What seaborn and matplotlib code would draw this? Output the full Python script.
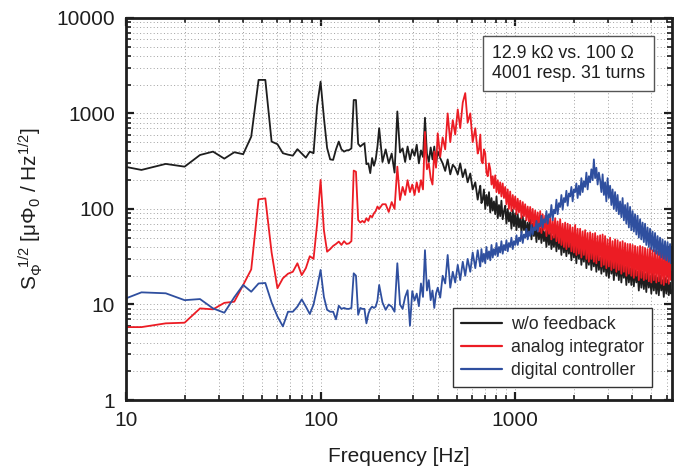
import numpy as np
import pandas as pd
import matplotlib
matplotlib.use("Agg")
import matplotlib.pyplot as plt
import seaborn as sns
from matplotlib.ticker import FixedLocator, LogLocator, NullFormatter, FixedFormatter

# ---------------- data ----------------
freq = [
    10, 12, 16, 20, 24, 28, 32, 36, 40, 44,
    48, 52, 56, 60, 64, 68, 72, 76, 80, 84,
    88, 92, 96, 100, 104, 108, 112, 116, 120, 124,
    128, 132, 136, 140, 144, 148, 152, 156, 160, 164,
    168, 172, 176, 180, 184, 188, 192, 196, 200, 208,
    216, 224, 232, 240, 248, 256, 264, 272, 280, 288,
    296, 304, 312, 320, 328, 336, 344, 352, 360, 368,
    376, 384, 392, 400, 412, 424, 437, 450, 464, 478,
    492, 507, 522, 538, 554, 570, 588, 605, 624, 642,
    652, 662, 671, 681, 691, 702, 712, 723, 734, 745,
    756, 767, 778, 790, 802, 814, 826, 838, 850, 863,
    876, 889, 902, 916, 929, 943, 957, 972, 986, 1001,
    1016, 1031, 1046, 1062, 1078, 1094, 1110, 1126, 1143, 1160,
    1177, 1195, 1213, 1231, 1249, 1268, 1287, 1306, 1325, 1345,
    1365, 1385, 1406, 1427, 1448, 1470, 1492, 1514, 1536, 1559,
    1582, 1606, 1630, 1654, 1679, 1704, 1729, 1755, 1781, 1807,
    1834, 1862, 1889, 1917, 1946, 1975, 2004, 2034, 2064, 2095,
    2126, 2158, 2190, 2223, 2256, 2290, 2324, 2358, 2393, 2429,
    2465, 2502, 2539, 2577, 2615, 2654, 2694, 2734, 2775, 2816,
    2858, 2900, 2943, 2987, 3032, 3077, 3123, 3169, 3216, 3264,
    3313, 3362, 3412, 3463, 3515, 3567, 3620, 3674, 3729, 3784,
    3841, 3898, 3956, 4015, 4075, 4135, 4197, 4259, 4322, 4387,
    4452, 4519, 4586, 4654, 4723, 4794, 4865, 4938, 5011, 5086,
    5162, 5238, 5316, 5396, 5476, 5557, 5640, 5724, 5809, 5896,
    5984, 6073, 6164, 6255, 6328, 6400,
]

no_feedback = [
    275, 256, 296, 277, 367, 398, 336, 392, 374, 571,
    2240, 2240, 507, 476, 383, 370, 361, 422, 380, 344,
    398, 383, 1200, 2150, 900, 435, 330, 326, 420, 507,
    420, 398, 410, 413, 430, 1380, 1380, 480, 450, 470,
    488, 294, 300, 237, 341, 283, 330, 450, 700, 310,
    420, 300, 380, 240, 1047, 390, 430, 310, 450, 330,
    420, 360, 470, 300, 410, 350, 900, 380, 310, 440,
    330, 450, 290, 400, 340, 300, 250, 330, 230, 290,
    270, 230, 300, 215, 260, 190, 235, 160, 190, 125,
    150, 175, 115, 125, 160, 100, 140, 108, 150, 92,
    130, 96, 120, 88, 135, 80, 110, 84, 122, 78,
    95, 108, 70, 100, 74, 92, 62, 98, 66, 90,
    60, 88, 64, 80, 56, 84, 60, 76, 52, 72,
    55, 78, 48, 70, 52, 66, 45, 72, 48, 62,
    44, 66, 46, 58, 40, 60, 42, 56, 38, 52,
    40, 56, 36, 52, 38, 50, 33, 54, 35, 46,
    32, 48, 34, 44, 29, 46, 31, 42, 27, 44,
    30, 40, 26, 38, 28, 42, 24, 36, 26, 38,
    23, 36, 25, 34, 22, 35, 23, 31, 21, 33,
    22, 31, 20, 30, 19, 32, 21, 28, 18, 29,
    20, 27, 18, 28, 17, 26, 19, 25, 16, 26,
    17, 24, 16, 25, 15.5, 23, 17, 22, 14, 23,
    15, 22, 14.5, 21, 13.5, 22, 15, 20, 13, 21,
    14, 20, 13, 19, 12.5, 20, 14, 18, 12, 19,
    13, 18, 12.5, 17, 13, 14,
]

analog_integrator = [
    5.8, 5.8, 6.35, 6.45, 9.1, 8.9, 10.4, 10.7, 16, 23.3,
    126, 129, 35, 14.8, 18.8, 21, 22, 27, 20.3, 24,
    32, 30, 70, 201, 60, 35.7, 38, 41, 43, 45.5,
    42, 46, 43, 43.6, 46, 252, 245, 76.7, 72, 75,
    72, 80, 75, 85, 82, 90, 95, 106, 100, 112,
    112, 93, 118, 100, 277, 124, 170, 140, 200, 150,
    180, 140, 190, 150, 200, 160, 640, 260, 300, 210,
    180, 400, 270, 620, 350, 560, 420, 1000, 500, 850,
    600, 1100, 700, 1300, 1630, 800, 1000, 500, 700, 380,
    420, 600, 320, 300, 420, 380, 240, 220, 300, 260,
    180, 220, 165, 225, 150, 200, 145, 190, 135, 185,
    130, 170, 112, 160, 100, 152, 95, 140, 100, 135,
    88, 128, 92, 122, 80, 118, 84, 112, 76, 106,
    74, 105, 68, 100, 64, 96, 62, 92, 58, 95,
    56, 88, 60, 85, 52, 84, 55, 80, 48, 76,
    50, 80, 46, 74, 44, 78, 42, 70, 40, 72,
    38, 70, 40, 68, 36, 64, 35, 68, 33, 62,
    34, 62, 31, 58, 33, 60, 30, 56, 28, 57,
    30, 55, 28, 56, 27, 52, 29, 53, 25, 54,
    26, 52, 24, 48, 25, 50, 23, 46, 24, 48,
    22, 47, 23, 45, 21, 46, 22, 44, 20, 43,
    21, 43, 20, 42, 19, 41, 20, 40, 18, 41,
    19, 40, 18, 39, 18.5, 38, 17.5, 39, 17, 37,
    18, 37, 17, 36, 17.5, 36, 16.5, 35, 16, 36,
    17, 35, 16.5, 34, 18, 22,
]

digital_controller = [
    11.6, 13.4, 13.1, 11.1, 11.4, 9.1, 8.2, 11.9, 16, 13.6,
    16.6, 16.8, 10.5, 7.5, 5.9, 8.4, 8.4, 9.5, 11.3, 9.5,
    7.95, 10.0, 15, 23, 12, 8.8, 8.4, 8.4, 7.0, 9.7,
    9.0, 9.2, 9.0, 9.0, 9.2, 21.2, 20, 7.8, 9.2, 9.0,
    9.0, 6.35, 8.0, 9.0, 9.5, 9.2, 9.5, 11, 16, 10.5,
    8.8, 10, 9.5, 8.4, 27, 10, 9, 12, 14.1, 6.0,
    13.8, 11, 13, 9.6, 16.6, 12, 37, 14, 18, 11.1,
    14, 9.2, 13, 15, 11.8, 20, 16.6, 33, 15, 22,
    17, 26, 18, 28, 20, 30, 22, 35, 24, 37,
    30, 25, 38, 28, 34, 27, 40, 30, 36, 29,
    42, 31, 38, 33, 44, 32, 40, 35, 46, 34,
    42, 37, 47, 36, 44, 40, 50, 38, 46, 42,
    53, 42, 50, 46, 58, 44, 54, 50, 62, 48,
    58, 52, 68, 54, 64, 60, 75, 58, 70, 66,
    85, 64, 78, 72, 95, 70, 88, 82, 110, 76,
    98, 90, 125, 88, 115, 105, 140, 98, 130, 118,
    155, 108, 145, 135, 170, 120, 160, 150, 185, 130,
    175, 140, 210, 150, 195, 170, 240, 160, 220, 190,
    260, 200, 330, 210, 270, 180, 240, 200, 150, 230,
    140, 190, 120, 210, 130, 175, 110, 160, 100, 150,
    95, 140, 88, 120, 82, 130, 76, 110, 70, 115,
    64, 105, 60, 95, 58, 88, 54, 85, 50, 78,
    48, 72, 45, 70, 42, 64, 40, 62, 38, 58,
    36, 56, 34, 52, 33, 50, 31, 48, 30, 46,
    29, 45, 28, 43, 27, 40,
]

series_names = ["w/o feedback", "analog integrator", "digital controller"]
series_colors = ["#1e1e1e", "#ec1c24", "#2f4f9f"]
x_ticks = [10, 100, 1000]
x_tick_labels = ["10", "100", "1000"]
y_ticks = [1, 10, 100, 1000, 10000]
y_tick_labels = ["1", "10", "100", "1000", "10000"]
annotation = "12.9 k\u03a9 vs. 100 \u03a9\n4001 resp. 31 turns"

# ---------------- build long table ----------------
frames = []
for name, vals in zip(series_names, [no_feedback, analog_integrator, digital_controller]):
    frames.append(pd.DataFrame({"Frequency": freq, "S": vals, "series": name}))
df = pd.concat(frames, ignore_index=True)

# ---------------- style ----------------
sns.set_style("ticks")
plt.rcParams["font.family"] = ["Liberation Sans", "DejaVu Sans"]
plt.rcParams["mathtext.fontset"] = "custom"
plt.rcParams["mathtext.rm"] = "Liberation Sans"
plt.rcParams["mathtext.it"] = "Liberation Sans"
plt.rcParams["mathtext.bf"] = "Liberation Sans"

fig, ax = plt.subplots(figsize=(6.85, 4.69), dpi=100)
fig.subplots_adjust(left=0.184, right=0.981, top=0.962, bottom=0.147)

sns.lineplot(data=df, x="Frequency", y="S", hue="series", hue_order=series_names,
             palette=dict(zip(series_names, series_colors)), estimator=None,
             sort=False, linewidth=1.3, ax=ax, legend=True)

ax.set_xscale("log")
ax.set_yscale("log")
ax.set_xlim(10, 6400)
ax.set_ylim(1, 10000)

ax.xaxis.set_major_locator(FixedLocator(x_ticks))
ax.xaxis.set_major_formatter(FixedFormatter(x_tick_labels))
ax.xaxis.set_minor_locator(LogLocator(base=10, subs=np.arange(2, 10)))
ax.xaxis.set_minor_formatter(NullFormatter())
ax.yaxis.set_major_locator(FixedLocator(y_ticks))
ax.yaxis.set_major_formatter(FixedFormatter(y_tick_labels))
ax.yaxis.set_minor_locator(LogLocator(base=10, subs=np.arange(2, 10)))
ax.yaxis.set_minor_formatter(NullFormatter())

ax.grid(True, which="both", linestyle=(0, (1, 2.5)), color="#a0a0a0", linewidth=0.7)
ax.set_axisbelow(True)

ax.tick_params(which="both", direction="in", top=True, right=True, colors="#1e1e1e")
ax.tick_params(which="major", length=6, width=1.6, labelsize=15, pad=8)
ax.tick_params(which="minor", length=3.5, width=1.2)
for sp in ax.spines.values():
    sp.set_linewidth(2.0)
    sp.set_color("#1e1e1e")

ax.set_xlabel("Frequency [Hz]", fontsize=15, labelpad=12, color="#1e1e1e")
ax.set_ylabel("S$_{\\Phi}^{\\ \\ 1/2}$ [\u03bc\u03a6$_0$ / Hz$^{1/2}$]", fontsize=15,
              labelpad=8, color="#1e1e1e")

handles, labels = ax.get_legend_handles_labels()
leg = ax.legend(handles, labels, loc="lower right", bbox_to_anchor=(0.963, 0.034),
                borderaxespad=0, frameon=True, fancybox=False, framealpha=1,
                edgecolor="#333333", fontsize=12.8, handlelength=2.3,
                labelspacing=0.33, borderpad=0.45, handletextpad=0.5)
leg.get_frame().set_linewidth(1.0)
for h in leg.get_lines():
    h.set_linewidth(1.6)

ax.text(0.950, 0.929, annotation, transform=ax.transAxes, ha="right", va="top",
        multialignment="left", fontsize=12.8, color="#1e1e1e", linespacing=1.25,
        bbox=dict(boxstyle="square,pad=0.5", fc="white", ec="#555555", lw=1.0))

fig.savefig("out.png", dpi=100)
